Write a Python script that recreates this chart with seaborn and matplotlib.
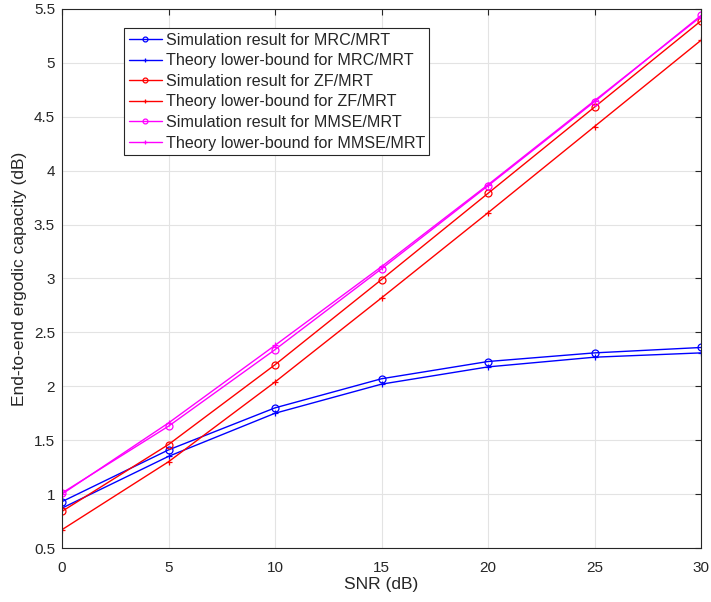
import pandas as pd
import matplotlib
matplotlib.use('Agg')
import matplotlib.pyplot as plt
from matplotlib.lines import Line2D
import seaborn as sns

# dados
snr = [0, 5, 10, 15, 20, 25, 30]
mrc_sim = [0.93, 1.41, 1.80, 2.07, 2.23, 2.31, 2.36]
mrc_theory = [0.87, 1.35, 1.75, 2.02, 2.18, 2.27, 2.31]
zf_sim = [0.84, 1.46, 2.20, 2.99, 3.79, 4.59, 5.39]
zf_theory = [0.67, 1.30, 2.04, 2.82, 3.61, 4.41, 5.21]
mmse_sim = [1.01, 1.63, 2.34, 3.09, 3.86, 4.64, 5.44]
mmse_theory = [1.00, 1.66, 2.38, 3.11, 3.87, 4.65, 5.43]

labels = [
    'Simulation result for MRC/MRT',
    'Theory lower-bound for MRC/MRT',
    'Simulation result for ZF/MRT',
    'Theory lower-bound for ZF/MRT',
    'Simulation result for MMSE/MRT',
    'Theory lower-bound for MMSE/MRT',
]
series = [mrc_sim, mrc_theory, zf_sim, zf_theory, mmse_sim, mmse_theory]
colors = ['#0000ff', '#0000ff', '#ff0000', '#ff0000', '#ff00ff', '#ff00ff']
markers = ['o', '+', 'o', '+', 'o', '+']

df = pd.DataFrame({
    'SNR': snr * len(series),
    'cap': [v for s in series for v in s],
    'curve': [l for l in labels for _ in snr],
})

sns.set_style('white')
plt.rcParams['font.family'] = ['Liberation Sans', 'DejaVu Sans']

fig = plt.figure(figsize=(7.11, 6.02), dpi=100)
ax = fig.add_axes([62 / 711, 1 - 548 / 602, (701 - 62) / 711, (548 - 9) / 602])

for lab, c, m in zip(labels, colors, markers):
    sub = df[df['curve'] == lab]
    sns.lineplot(data=sub, x='SNR', y='cap', ax=ax, color=c, marker=m,
                 markersize=5, markerfacecolor='none',
                 markeredgecolor=c, markeredgewidth=0.9, linewidth=1.0,
                 legend=False)

ax.set_xlim(0, 30)
ax.set_ylim(0.5, 5.5)
ax.set_xticks(snr)
ax.set_yticks([0.5 + 0.5 * i for i in range(11)])
ax.set_yticklabels(['0.5', '1', '1.5', '2', '2.5', '3', '3.5', '4', '4.5', '5', '5.5'])
ax.grid(True, color='#e3e3e3', linewidth=0.8)
ax.tick_params(direction='in', length=4, top=True, right=True, colors='#262626',
               labelsize=11)
ax.tick_params(axis='x', pad=9)
ax.tick_params(axis='y', pad=5)
for sp in ax.spines.values():
    sp.set_color('#262626')
    sp.set_linewidth(0.8)
ax.set_xlabel('SNR (dB)', color='#262626', fontsize=12.5, labelpad=2)
ax.set_ylabel('End-to-end ergodic capacity (dB)', color='#262626', fontsize=12.5, labelpad=5)

# legenda no estilo matlab (marcadores pequenos)
handles = [Line2D([], [], color=c, marker=m, markersize=3.5, markerfacecolor='none',
                  markeredgewidth=0.9, linewidth=1.0)
           for c, m in zip(colors, markers)]
leg = ax.legend(handles, labels, loc='upper left', bbox_to_anchor=(124 / 711, 1 - 28 / 602),
                bbox_transform=fig.transFigure, frameon=True, fancybox=False,
                edgecolor='#262626', framealpha=1, fontsize=11.6,
                handlelength=2.1, handletextpad=0.2, borderpad=0.28,
                labelspacing=0.35, borderaxespad=0)
leg.get_frame().set_linewidth(0.8)

fig.savefig('out.png', dpi=100)
